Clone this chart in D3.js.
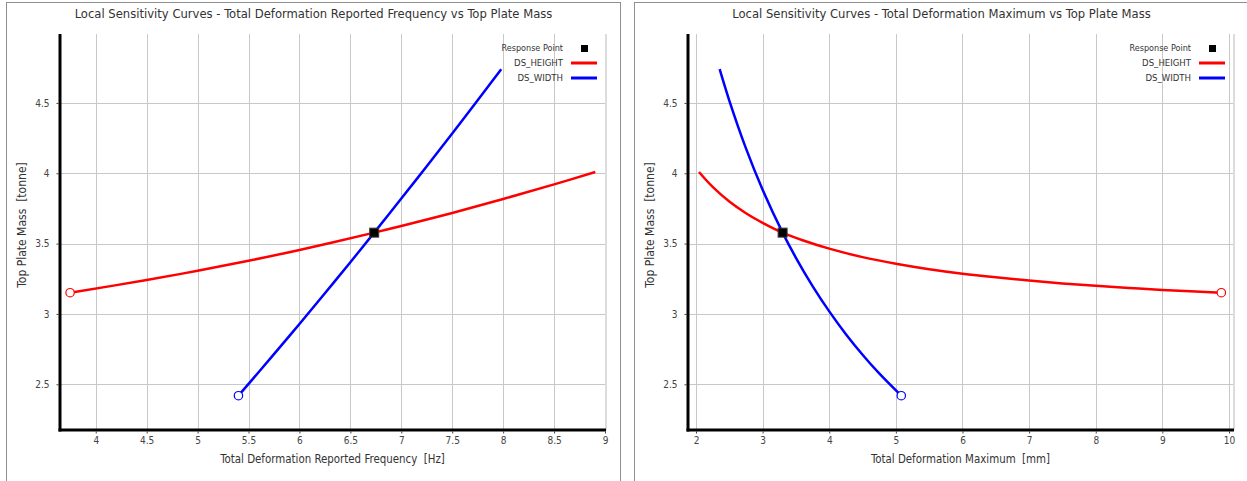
<!DOCTYPE html>
<html>
<head>
<meta charset="utf-8">
<script src="https://cdn.jsdelivr.net/npm/d3@7/dist/d3.min.js"></script>
<style>
  html, body { margin: 0; padding: 0; background: #ffffff; }
  svg { display: block; }
  text { font-family: "DejaVu Sans Condensed", "DejaVu Sans", sans-serif; font-stretch: condensed; white-space: pre; }
</style>
</head>
<body>
<svg id="chart" width="1247" height="481"></svg>
<script>
// ---------- data ----------
const massTicks = [2.5, 3, 3.5, 4, 4.5];
const freqTicks = [4, 4.5, 5, 5.5, 6, 6.5, 7, 7.5, 8, 8.5, 9];
const defTicks = [2, 3, 4, 5, 6, 7, 8, 9, 10];

const seriesNames = ["DS_HEIGHT", "DS_WIDTH"];
const seriesColors = ["#ff0000", "#0000ff"];

// Chart 1: Frequency vs Mass
const freqHeightX = [3.748, 4.5, 5.0, 5.5, 6.0, 6.734, 7.0, 7.5, 8.0, 8.5, 8.905];
const freqHeightMass = [3.151, 3.241, 3.307, 3.378, 3.455, 3.578, 3.625, 3.718, 3.817, 3.921, 4.009];
const freqWidthX = [5.401, 5.75, 6.0, 6.25, 6.5, 6.734, 7.0, 7.25, 7.5, 7.75, 7.981];
const freqWidthMass = [2.419, 2.714, 2.929, 3.147, 3.368, 3.578, 3.820, 4.050, 4.283, 4.519, 4.740];
const freqResponse = [6.734, 3.578];

// Chart 2: Deformation vs Mass
const defHeightX = [9.885, 9.5, 9.0, 8.5, 8.0, 7.5, 7.0, 6.5, 6.0, 5.5, 5.0, 4.5, 4.0, 3.6, 3.3, 3.0, 2.75, 2.5, 2.25, 2.045];
const defHeightMass = [3.151, 3.159, 3.171, 3.185, 3.200, 3.217, 3.237, 3.260, 3.286, 3.318, 3.357, 3.404, 3.464, 3.524, 3.578, 3.648, 3.716, 3.799, 3.903, 4.009];
const defWidthX = [5.081, 4.75, 4.5, 4.25, 4.0, 3.75, 3.5, 3.3, 3.0, 2.75, 2.5, 2.355];
const defWidthMass = [2.419, 2.577, 2.710, 2.856, 3.018, 3.198, 3.399, 3.578, 3.883, 4.177, 4.517, 4.740];
const defResponse = [3.30, 3.578];

const titles = [
  "Local Sensitivity Curves - Total Deformation Reported Frequency vs Top Plate Mass",
  "Local Sensitivity Curves - Total Deformation Maximum vs Top Plate Mass"
];
const xLabels = ["Total Deformation Reported Frequency  [Hz]", "Total Deformation Maximum  [mm]"];
const yLabel = "Top Plate Mass  [tonne]";
const legendResponse = "Response Point";

// ---------- drawing ----------
const svg = d3.select("#chart");

function drawPanel(p) {
  const g = svg.append("g");
  // panel border
  g.append("rect")
    .attr("x", p.px).attr("y", 2.5)
    .attr("width", p.pw).attr("height", 500)
    .attr("fill", "none").attr("stroke", "#8f8f8f").attr("stroke-width", 1);

  const x = d3.scaleLinear().domain(p.xDomain).range([p.left, p.right]);
  const y = d3.scaleLinear().domain([2.175, 4.99]).range([430, 34]);

  // title
  g.append("text")
    .attr("x", p.px + p.pw / 2).attr("y", 17.5)
    .attr("text-anchor", "middle")
    .attr("font-size", 12.9).attr("fill", "#333")
    .text(p.title);

  // gridlines
  g.append("g").selectAll("line").data(p.xTicks).join("line")
    .attr("x1", d => Math.round(x(d)) + 0.5).attr("x2", d => Math.round(x(d)) + 0.5)
    .attr("y1", 34).attr("y2", 430)
    .attr("stroke", "#c8c8c8").attr("stroke-width", 1);
  g.append("g").selectAll("line").data(massTicks).join("line")
    .attr("x1", p.left).attr("x2", p.right)
    .attr("y1", d => Math.round(y(d)) + 0.5).attr("y2", d => Math.round(y(d)) + 0.5)
    .attr("stroke", "#c8c8c8").attr("stroke-width", 1);
  // right plot edge
  g.append("line")
    .attr("x1", p.right + 1).attr("x2", p.right + 1)
    .attr("y1", 34).attr("y2", 430)
    .attr("stroke", "#dcdcdc").attr("stroke-width", 2);

  // axes
  const yAxis = g.append("g")
    .attr("transform", `translate(${p.left - 1.5},0)`)
    .call(d3.axisLeft(y).tickValues(massTicks).tickSize(2).tickPadding(7).tickFormat(d3.format("")));
  const xAxis = g.append("g")
    .attr("transform", `translate(0,${431.5})`)
    .call(d3.axisBottom(x).tickValues(p.xTicks).tickSize(2).tickPadding(3).tickFormat(d3.format("")));
  [yAxis, xAxis].forEach(a => {
    a.select(".domain").remove();
    a.selectAll(".tick line").attr("stroke", "#444");
    a.selectAll(".tick text").attr("fill", "#444").attr("font-size", 10)
      .attr("font-family", "\"DejaVu Sans Condensed\", \"DejaVu Sans\", sans-serif");
  });
  // thick axis lines
  g.append("line").attr("x1", p.left).attr("x2", p.left).attr("y1", 34).attr("y2", 431.5)
    .attr("stroke", "#000").attr("stroke-width", 3);
  g.append("line").attr("x1", p.left - 1.5).attr("x2", p.right + 1).attr("y1", 430).attr("y2", 430)
    .attr("stroke", "#000").attr("stroke-width", 3);

  // axis labels
  g.append("text")
    .attr("x", (p.left + p.right) / 2).attr("y", 463)
    .attr("text-anchor", "middle").attr("font-size", 11.4).attr("fill", "#333")
    .text(p.xLabel);
  g.append("text")
    .attr("transform", `translate(${p.px + 19.5},225) rotate(-90)`)
    .attr("text-anchor", "middle").attr("font-size", 12).attr("fill", "#333")
    .text(yLabel);

  // curves
  const line = d3.line().x(d => x(d[0])).y(d => y(d[1])).curve(d3.curveCatmullRom.alpha(0.5));
  p.series.forEach((s, i) => {
    const pts = s.xs.map((v, j) => [v, s.ys[j]]);
    g.append("path").datum(pts)
      .attr("d", line)
      .attr("fill", "none")
      .attr("stroke", seriesColors[i]).attr("stroke-width", 2.5);
    g.append("circle")
      .attr("cx", x(pts[0][0])).attr("cy", y(pts[0][1])).attr("r", 4.2)
      .attr("fill", "#fff").attr("stroke", seriesColors[i]).attr("stroke-width", 1.2);
  });

  // response point
  g.append("rect")
    .attr("x", x(p.response[0]) - 4.5).attr("y", y(p.response[1]) - 4.5)
    .attr("width", 9).attr("height", 9)
    .attr("fill", "#000").attr("stroke", "#3a3a3a").attr("stroke-width", 1);

  // legend
  const lg = g.append("g").attr("transform", `translate(${p.right},0)`);
  lg.append("text").attr("x", -42).attr("y", 47.5).attr("dy", "0.35em")
    .attr("text-anchor", "end").attr("font-size", 9).attr("fill", "#333")
    .text(legendResponse);
  lg.append("rect").attr("x", -24).attr("y", 45).attr("width", 7).attr("height", 7).attr("fill", "#000");
  seriesNames.forEach((n, i) => {
    const yy = 63 + i * 15;
    lg.append("text").attr("x", -42).attr("y", yy).attr("dy", "0.35em")
      .attr("text-anchor", "end").attr("font-size", 9.5).attr("fill", "#333")
      .text(n);
    lg.append("line").attr("x1", -34).attr("x2", -8).attr("y1", yy).attr("y2", yy)
      .attr("stroke", seriesColors[i]).attr("stroke-width", 3);
  });
}

drawPanel({
  px: 6.5, pw: 614, left: 60, right: 605,
  xDomain: [3.649, 9.0], xTicks: freqTicks,
  title: titles[0], xLabel: xLabels[0],
  series: [{ xs: freqHeightX, ys: freqHeightMass }, { xs: freqWidthX, ys: freqWidthMass }],
  response: freqResponse
});
drawPanel({
  px: 634.5, pw: 614, left: 688, right: 1233,
  xDomain: [1.88, 10.06], xTicks: defTicks,
  title: titles[1], xLabel: xLabels[1],
  series: [{ xs: defHeightX, ys: defHeightMass }, { xs: defWidthX, ys: defWidthMass }],
  response: defResponse
});
</script>
</body>
</html>
